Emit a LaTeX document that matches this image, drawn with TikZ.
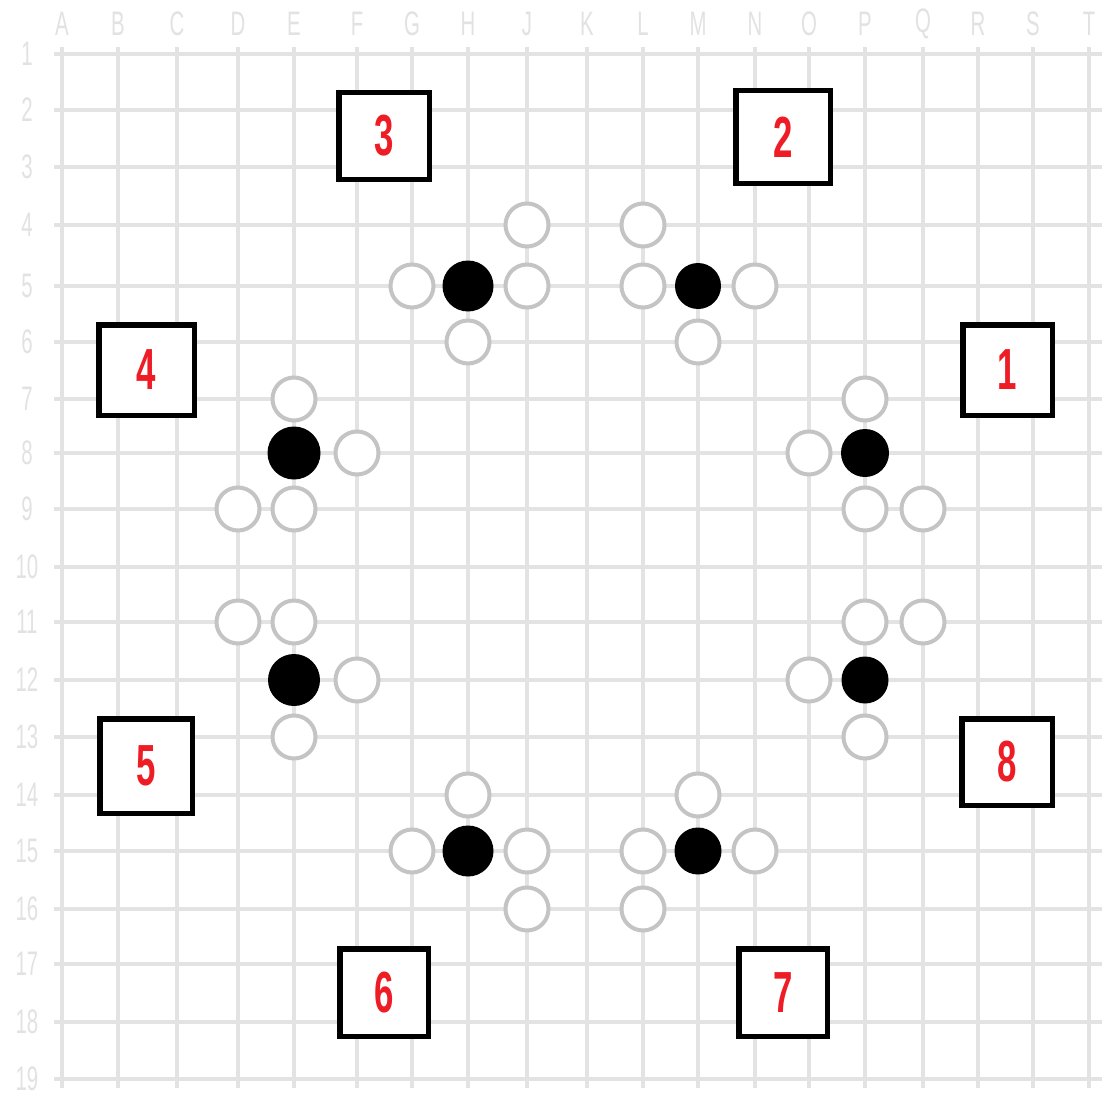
\documentclass[tikz,border=0pt]{standalone}
\usepackage{fontspec}
\newfontfamily\labfont[FakeStretch=0.6]{Liberation Sans}
\newfontfamily\numfont[FakeStretch=0.6]{Liberation Sans Bold}
\definecolor{gridc}{HTML}{E3E3E3}
\definecolor{labc}{HTML}{E2E2E2}
\definecolor{stonec}{HTML}{C4C4C4}
\definecolor{numred}{HTML}{EE1C25}
\begin{document}
\begin{tikzpicture}[x=1pt,y=-1pt,
  gl/.style={gridc, line width=3.4pt},
  axlab/.style={text=labc, font=\labfont\fontsize{34}{34}\selectfont, inner sep=0pt},
  wst/.style={circle, draw=stonec, line width=4pt, fill=white, minimum size=43pt, inner sep=0pt},
  bst/.style={circle, fill=black, minimum size=#1, inner sep=0pt},
  bst/.default=51pt,
  numbox/.style={draw=black, line width=5.5pt, fill=white, inner sep=0pt,
    text=numred, font=\numfont\fontsize{58}{58}\selectfont}
]
\useasboundingbox (0,0) rectangle (1112,1108);
\fill[white] (0,0) rectangle (1112,1108);
% grid lines
\foreach \x in {62,118,177,238,294,357,412,468,527,587,643,698,755,809,865,923,978,1033,1089}
  \draw[gl] (\x,47) -- (\x,1088);
\foreach \y in {54,110,167,225,286,342,399,453,509,567,622,680,737,795,851,909,964,1022,1079}
  \draw[gl] (54,\y) -- (1102,\y);
% column and row coordinates and labels
\foreach \n/\x in {A/62,B/118,C/177,D/238,E/294,F/357,G/412,H/468,J/527,K/587,L/643,M/698,N/755,O/809,P/865,Q/923,R/978,S/1033,T/1089}{
  \coordinate (c\n) at (\x,0);
  \node[axlab] (lab\n) at (\x,24) {\n};
}
\foreach \n/\y in {1/54,2/110,3/167,4/225,5/286,6/342,7/399,8/453,9/509,10/567,11/622,12/680,13/737,14/795,15/851,16/909,17/964,18/1022,19/1079}{
  \coordinate (r\n) at (0,\y);
  \node[axlab] (row\n) at (27,\y) {\n};
}
% group H5
\node[bst=51pt] (H5) at (cH |- r5) {};
\node[wst] (G5) at (cG |- r5) {};
\node[wst] (J5) at (cJ |- r5) {};
\node[wst] (J4) at (cJ |- r4) {};
\node[wst] (H6) at (cH |- r6) {};
% group M5
\node[bst=46pt] (M5) at (cM |- r5) {};
\node[wst] (L5) at (cL |- r5) {};
\node[wst] (N5) at (cN |- r5) {};
\node[wst] (L4) at (cL |- r4) {};
\node[wst] (M6) at (cM |- r6) {};
% group E8
\node[bst=53pt] (E8) at (cE |- r8) {};
\node[wst] (E7) at (cE |- r7) {};
\node[wst] (F8) at (cF |- r8) {};
\node[wst] (D9) at (cD |- r9) {};
\node[wst] (E9) at (cE |- r9) {};
% group P8
\node[bst=48pt] (P8) at (cP |- r8) {};
\node[wst] (P7) at (cP |- r7) {};
\node[wst] (O8) at (cO |- r8) {};
\node[wst] (P9) at (cP |- r9) {};
\node[wst] (Q9) at (cQ |- r9) {};
% group E12
\node[bst=52pt] (E12) at (cE |- r12) {};
\node[wst] (D11) at (cD |- r11) {};
\node[wst] (E11) at (cE |- r11) {};
\node[wst] (F12) at (cF |- r12) {};
\node[wst] (E13) at (cE |- r13) {};
% group P12
\node[bst=47pt] (P12) at (cP |- r12) {};
\node[wst] (P11) at (cP |- r11) {};
\node[wst] (Q11) at (cQ |- r11) {};
\node[wst] (O12) at (cO |- r12) {};
\node[wst] (P13) at (cP |- r13) {};
% group H15
\node[bst=51pt] (H15) at (cH |- r15) {};
\node[wst] (H14) at (cH |- r14) {};
\node[wst] (G15) at (cG |- r15) {};
\node[wst] (J15) at (cJ |- r15) {};
\node[wst] (J16) at (cJ |- r16) {};
% group M15
\node[bst=47pt] (M15) at (cM |- r15) {};
\node[wst] (M14) at (cM |- r14) {};
\node[wst] (L15) at (cL |- r15) {};
\node[wst] (N15) at (cN |- r15) {};
\node[wst] (L16) at (cL |- r16) {};
% numbered boxes
\node[numbox, minimum width=89.5pt, minimum height=90.5pt] (b1) at (1007.5,370) {1};
\node[numbox, minimum width=94.5pt, minimum height=92.5pt] (b2) at (783,137) {2};
\node[numbox, minimum width=90.5pt, minimum height=86.5pt] (b3) at (384,136) {3};
\node[numbox, minimum width=95.5pt, minimum height=90.5pt] (b4) at (146.5,370) {4};
\node[numbox, minimum width=92.5pt, minimum height=94.5pt] (b5) at (146,766) {5};
\node[numbox, minimum width=88.5pt, minimum height=87.5pt] (b6) at (384,992.5) {6};
\node[numbox, minimum width=88.5pt, minimum height=87.5pt] (b7) at (783,992.5) {7};
\node[numbox, minimum width=90.5pt, minimum height=86.5pt] (b8) at (1007,762) {8};
\end{tikzpicture}
\end{document}
